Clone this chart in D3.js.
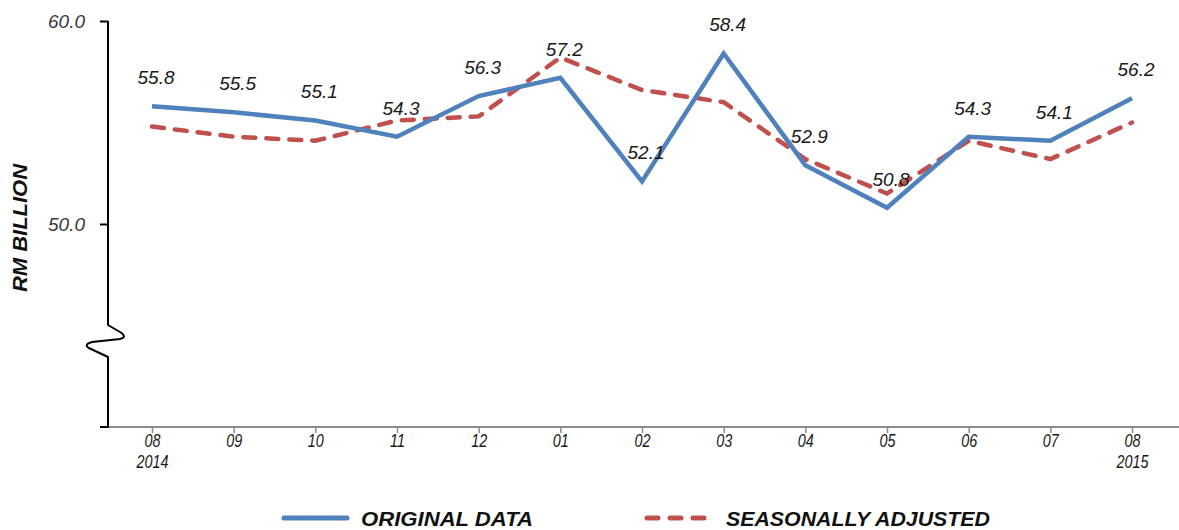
<!DOCTYPE html>
<html>
<head>
<meta charset="utf-8">
<script src="https://cdn.jsdelivr.net/npm/d3@7"></script>
<style>
  body { margin: 0; background: #fff; }
  svg { display: block; font-family: "Liberation Sans", Arial, sans-serif; }
</style>
</head>
<body>
<script>
// Monthly values, RM billion
const months = ["08", "09", "10", "11", "12", "01", "02", "03", "04", "05", "06", "07", "08"];
const years = ["2014", "", "", "", "", "", "", "", "", "", "", "", "2015"];
const original = [55.8, 55.5, 55.1, 54.3, 56.3, 57.2, 52.1, 58.4, 52.9, 50.8, 54.3, 54.1, 56.2];
const seasonal = [54.8, 54.3, 54.1, 55.1, 55.3, 58.2, 56.6, 56.0, 53.2, 51.5, 54.1, 53.2, 55.0];
const yTicks = [50, 60];

const width = 1179, height = 530;
const axisX = 108;

const svg = d3.select("body").append("svg")
  .attr("width", width)
  .attr("height", height);

const x = d3.scalePoint()
  .domain(d3.range(months.length))
  .range([152, 1132]);

const y = d3.scaleLinear()
  .domain([40, 60])
  .range([427, 21]);

// x axis (grey)
const xAxis = svg.append("g")
  .attr("transform", `translate(0,${y(40)})`)
  .call(d3.axisBottom(x).tickSize(6).tickSizeOuter(0).tickFormat(""));
xAxis.select(".domain").remove();
xAxis.selectAll(".tick line").attr("stroke", "#8c8c8c").attr("stroke-width", 1.5);
svg.append("line")
  .attr("x1", axisX).attr("x2", width)
  .attr("y1", y(40)).attr("y2", y(40))
  .attr("stroke", "#8c8c8c").attr("stroke-width", 2);

// tall, narrow labels like the original
xAxis.selectAll(".tick").each(function(d) {
  const t = d3.select(this).append("text")
    .attr("fill", "#1a1a1a")
    .attr("font-size", 18)
    .attr("font-style", "italic")
    .attr("text-anchor", "middle")
    .attr("transform", "scale(0.8,1)");
  t.append("tspan").attr("x", 0).attr("y", 20).text(months[d]);
  if (years[d]) t.append("tspan").attr("x", 0).attr("y", 41).text(years[d]);
});

// y axis with break
const yAxis = svg.append("g")
  .attr("transform", `translate(${axisX},0)`)
  .call(d3.axisLeft(y).tickValues(yTicks).tickSize(8).tickPadding(15).tickFormat(d3.format(".1f")));
yAxis.select(".domain").remove();
yAxis.selectAll(".tick line").attr("stroke", "#000").attr("stroke-width", 2);
yAxis.selectAll(".tick text")
  .attr("fill", "#3a3a3a")
  .attr("font-size", 19)
  .attr("font-style", "italic");

svg.append("path")
  .attr("fill", "none")
  .attr("stroke", "#000")
  .attr("stroke-width", 2)
  .attr("stroke-linejoin", "round")
  .attr("d", `M${axisX},${y(60)} L${axisX},325
    L120,332 Q128,337 120,339 L92,342 Q82,345 91,349 L${axisX},357
    L${axisX},${y(40)} L100,${y(40)}`);

// axis title
svg.append("text")
  .attr("transform", "translate(27,228) rotate(-90)")
  .attr("text-anchor", "middle")
  .attr("font-size", 20)
  .attr("font-weight", "bold")
  .attr("font-style", "italic")
  .attr("fill", "#111")
  .attr("textLength", 128).attr("lengthAdjust", "spacingAndGlyphs")
  .text("RM BILLION");

// lines
const line = d3.line()
  .x((d, i) => x(i))
  .y(d => y(d));

svg.append("path")
  .datum(seasonal)
  .attr("fill", "none")
  .attr("stroke", "#c0504d")
  .attr("stroke-width", 4.5)
  .attr("stroke-dasharray", "12,11")
  .attr("stroke-linecap", "round")
  .attr("d", line);

svg.append("path")
  .datum(original)
  .attr("fill", "none")
  .attr("stroke", "#4f81bd")
  .attr("stroke-width", 4.5)
  .attr("stroke-linejoin", "miter")
  .attr("d", line);

// value labels for original data
svg.append("g")
  .selectAll("text")
  .data(original)
  .join("text")
  .attr("x", (d, i) => x(i) + 4)
  .attr("y", d => y(d) - 22)
  .attr("text-anchor", "middle")
  .attr("font-size", 19)
  .attr("font-style", "italic")
  .attr("fill", "#1a1a1a")
  .text(d => d3.format(".1f")(d));

// legend
const legend = svg.append("g");
legend.append("line")
  .attr("x1", 284).attr("x2", 347).attr("y1", 518).attr("y2", 518)
  .attr("stroke", "#4f81bd").attr("stroke-width", 5).attr("stroke-linecap", "round");
legend.append("text")
  .attr("x", 361).attr("y", 526)
  .attr("font-size", 20).attr("font-weight", "bold").attr("font-style", "italic")
  .attr("fill", "#111")
  .attr("textLength", 172).attr("lengthAdjust", "spacingAndGlyphs")
  .text("ORIGINAL DATA");
legend.append("line")
  .attr("x1", 647).attr("x2", 706).attr("y1", 518).attr("y2", 518)
  .attr("stroke", "#c0504d").attr("stroke-width", 5).attr("stroke-linecap", "round")
  .attr("stroke-dasharray", "11,12");
legend.append("text")
  .attr("x", 726).attr("y", 526)
  .attr("font-size", 20).attr("font-weight", "bold").attr("font-style", "italic")
  .attr("fill", "#111")
  .attr("textLength", 264).attr("lengthAdjust", "spacingAndGlyphs")
  .text("SEASONALLY ADJUSTED");
</script>
</body>
</html>
